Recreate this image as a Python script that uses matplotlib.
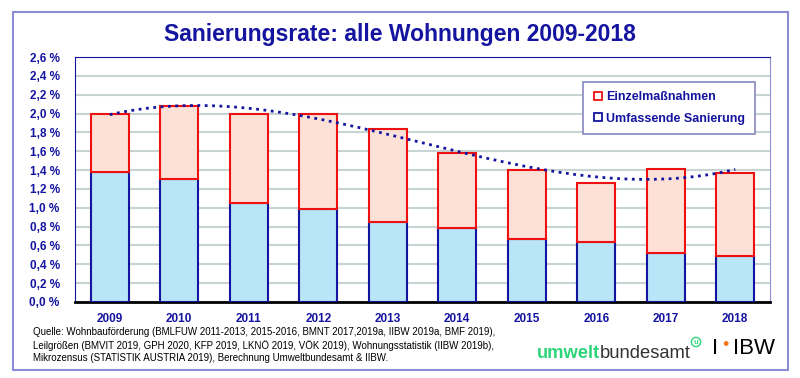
import numpy as np
import matplotlib.pyplot as plt
from matplotlib.lines import Line2D
from matplotlib.patches import Rectangle

# Sanierungsrate in %
years = ['2009', '2010', '2011', '2012', '2013', '2014', '2015', '2016', '2017', '2018']
umfassend = [1.38, 1.31, 1.05, 0.99, 0.85, 0.79, 0.665, 0.635, 0.515, 0.485]
gesamt = [2.00, 2.08, 1.99, 1.99, 1.84, 1.58, 1.40, 1.26, 1.415, 1.37]
einzel = [g - u for g, u in zip(gesamt, umfassend)]
yticks = [0.0, 0.2, 0.4, 0.6, 0.8, 1.0, 1.2, 1.4, 1.6, 1.8, 2.0, 2.2, 2.4, 2.6]

navy = '#1414a0'
font = ['Liberation Sans', 'DejaVu Sans']
plt.rcParams['font.family'] = font

fig = plt.figure(figsize=(8, 3.78), dpi=100)
ax = fig.add_axes([75/800, 1-302/378, 695/800, 245/378])

x = np.arange(len(years))
w = 0.55
ax.bar(x, umfassend, w, color='#b8e6f8', edgecolor=navy, linewidth=1.5, zorder=3)
ax.bar(x, einzel, w, bottom=umfassend, color='#fde0d6', edgecolor='#ee1111',
       linewidth=1.5, zorder=3)

# polynomial trend line (3rd order), like the spreadsheet trendline
coef = np.polyfit(x, gesamt, 3)
xs = np.linspace(0, 9, 200)
ax.plot(xs, np.polyval(coef, xs), ls=':', color=navy, lw=2, zorder=4)

ax.set_xlim(-0.5, 9.5)
ax.set_ylim(0, 2.6)
ax.set_yticks(yticks)
ax.set_yticklabels([('%.1f %%' % t).replace('.', ',') for t in yticks])
ax.set_xticks(x)
ax.set_xticklabels(years)
ax.tick_params(axis='both', length=0, labelsize=8.5, labelcolor=navy)
ax.tick_params(axis='y', pad=11)
ax.tick_params(axis='x', pad=8)
for lab in ax.get_xticklabels() + ax.get_yticklabels():
    lab.set_fontweight('bold')
ax.grid(axis='y', color='#c8d4d4', lw=1.5, zorder=0)
ax.spines['left'].set_color(navy)
ax.spines['top'].set_color(navy)
ax.spines['right'].set_color('#9090d8')
ax.spines['bottom'].set_color('black')
ax.spines['bottom'].set_linewidth(2)

handles = [Line2D([], [], ls='none', marker='s', markersize=6, markerfacecolor='white',
                  markeredgecolor='#ee1111', markeredgewidth=1.3),
           Line2D([], [], ls='none', marker='s', markersize=6, markerfacecolor='white',
                  markeredgecolor=navy, markeredgewidth=1.3)]
leg = ax.legend(handles, ['Einzelmaßnahmen', 'Umfassende Sanierung'],
                loc='upper right', bbox_to_anchor=(0.978, 0.898), borderaxespad=0,
                fancybox=False, framealpha=1, edgecolor='#8888c0', handlelength=0.8,
                handletextpad=0.3, labelspacing=0.75, borderpad=0.75,
                prop={'weight': 'bold', 'size': 9})
leg.get_frame().set_linewidth(1.2)
for t in leg.get_texts():
    t.set_color(navy)
leg.set_zorder(5)

fig.text(0.5, 1-34/378, 'Sanierungsrate: alle Wohnungen 2009-2018', ha='center',
         va='center', fontsize=16.5, fontweight='bold', color=navy)

fig.text(33/800, 1-345/378,
         'Quelle: Wohnbauförderung (BMLFUW 2011-2013, 2015-2016, BMNT 2017,2019a, IIBW 2019a, BMF 2019),\n'
         'Leilgrößen (BMVIT 2019, GPH 2020, KFP 2019, LKNÖ 2019, VÖK 2019), Wohnungsstatistik (IIBW 2019b),\n'
         'Mikrozensus (STATISTIK AUSTRIA 2019), Berechnung Umweltbundesamt & IIBW.',
         ha='left', va='center', fontsize=7, linespacing=1.25, color='black')

# logos
t1 = fig.text(537/800, 1-353/378, 'umwelt', ha='left', va='center', fontsize=13.2,
              fontweight='bold', color='#2ed47a')
fig.canvas.draw()
bb = t1.get_window_extent()
fig.text(bb.x1/800, 1-353/378, 'bundesamt', ha='left', va='center', fontsize=13.2,
         color='#333333')
fig.text(696/800, 1-342/378, 'u', ha='center', va='center', fontsize=5.5, color='#2ed47a',
         fontweight='bold',
         bbox=dict(boxstyle='circle,pad=0.15', fc='white', ec='#2ed47a', lw=1))
fig.text(715/800, 1-348/378, 'I', ha='center', va='center', fontsize=16, color='black')
fig.text(725/800, 1-346/378, '•', ha='center', va='center', fontsize=13, color='#f07820')
fig.text(733/800, 1-348/378, 'IBW', ha='left', va='center', fontsize=16, color='black')

# outer frame
fig.patches.append(Rectangle((13/800, 1-370/378), 775/800, 358/378, transform=fig.transFigure,
                             fill=False, ec='#8c8cd8', lw=1.5))

fig.savefig('out.png', dpi=100)
